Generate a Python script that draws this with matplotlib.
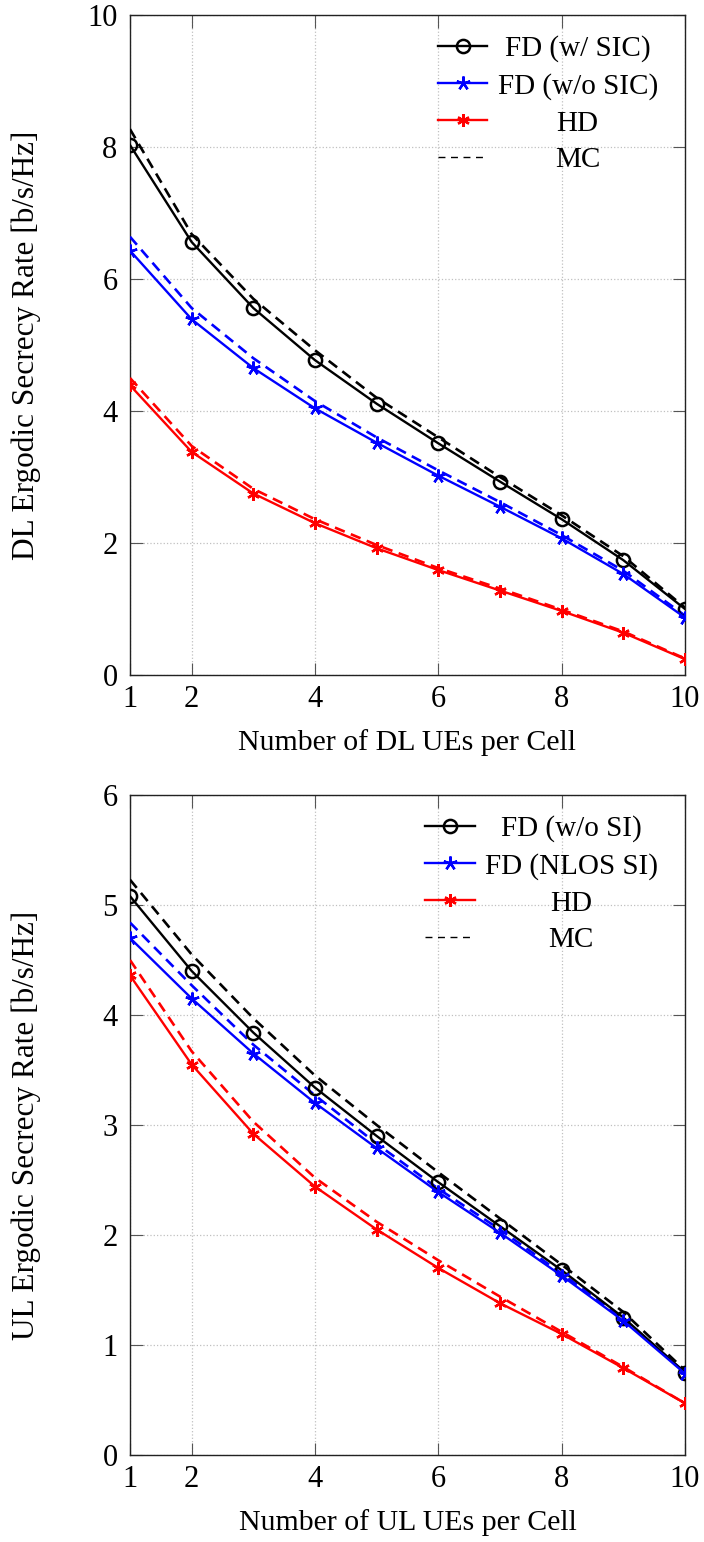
import numpy as np
import matplotlib
matplotlib.use("Agg")
import matplotlib.pyplot as plt
from matplotlib.lines import Line2D

plt.rcParams['font.family'] = ['Liberation Serif', 'DejaVu Serif']
plt.rcParams['font.size'] = 22

# number of UEs per cell
ues = [1, 2, 3, 4, 5, 6, 7, 8, 9, 10]
xticks = [1, 2, 4, 6, 8, 10]

# downlink (top panel)
dl_fd_sic = [8.03, 6.56, 5.56, 4.77, 4.11, 3.51, 2.93, 2.36, 1.74, 1.00]
dl_fd_sic_mc = [8.27, 6.68, 5.70, 4.92, 4.20, 3.60, 3.00, 2.42, 1.80, 1.02]
dl_fd_nosic = [6.43, 5.39, 4.65, 4.04, 3.52, 3.02, 2.55, 2.07, 1.53, 0.87]
dl_fd_nosic_mc = [6.64, 5.56, 4.80, 4.15, 3.60, 3.10, 2.62, 2.12, 1.58, 0.90]
dl_hd = [4.39, 3.38, 2.75, 2.30, 1.92, 1.59, 1.28, 0.97, 0.64, 0.24]
dl_hd_mc = [4.50, 3.47, 2.82, 2.36, 1.97, 1.62, 1.31, 0.99, 0.66, 0.25]

# uplink (bottom panel)
ul_fd_nosi = [5.08, 4.40, 3.84, 3.34, 2.90, 2.48, 2.08, 1.68, 1.25, 0.75]
ul_fd_nosi_mc = [5.23, 4.55, 3.97, 3.45, 3.00, 2.57, 2.15, 1.73, 1.30, 0.77]
ul_fd_nlos = [4.70, 4.15, 3.65, 3.20, 2.79, 2.39, 2.02, 1.63, 1.22, 0.74]
ul_fd_nlos_mc = [4.84, 4.27, 3.73, 3.27, 2.83, 2.42, 2.05, 1.65, 1.24, 0.75]
ul_hd = [4.36, 3.55, 2.92, 2.44, 2.05, 1.70, 1.38, 1.10, 0.79, 0.47]
ul_hd_mc = [4.50, 3.67, 3.03, 2.52, 2.12, 1.77, 1.44, 1.12, 0.80, 0.47]

dl_labels = ['FD (w/ SIC)', 'FD (w/o SIC)', 'HD', 'MC']
ul_labels = ['FD (w/o SI)', 'FD (NLOS SI)', 'HD', 'MC']

fig = plt.figure(figsize=(7.04, 15.42), dpi=100)
ax1 = fig.add_axes([130/704, 1-675/1542, 555/704, 660/1542])
ax2 = fig.add_axes([130/704, 1-1455/1542, 555/704, 660/1542])

star5 = (5, 2, 0)
star6 = (6, 2, 0)
dash = (0, (4, 2.5))


def panel(ax, series, labels, ymax, xlab, ylab):
    (a, am), (b, bm), (c, cm) = series
    h1, = ax.plot(ues, a, color='black', lw=1.7, marker='o', ms=9.5,
                  mfc='none', mew=1.8, zorder=5)
    ax.plot(ues, am, color='black', lw=1.9, ls=dash, zorder=4)
    h2, = ax.plot(ues, b, color='blue', lw=1.7, marker=star5, ms=10,
                  mew=1.7, zorder=5)
    ax.plot(ues, bm, color='blue', lw=1.9, ls=dash, zorder=4)
    h3, = ax.plot(ues, c, color='red', lw=1.7, marker=star6, ms=9,
                  mew=1.7, zorder=5)
    ax.plot(ues, cm, color='red', lw=1.9, ls=dash, zorder=4)
    h4 = Line2D([], [], color='black', lw=1.0, ls=(0, (5, 4)))

    ax.set_xlim(1, 10)
    ax.set_ylim(0, ymax)
    ax.set_xticks(xticks)
    ax.set_yticks(np.arange(0, ymax + 1, 2 if ymax == 10 else 1))
    ax.grid(True, ls=':', color='#c0c0c0', lw=0.9)
    ax.tick_params(direction='in', length=9, width=0.8, color='#555555',
                   top=True, right=True, labelsize=22)
    ax.tick_params(axis='x', pad=7)
    ax.tick_params(axis='y', pad=9)
    for s in ax.spines.values():
        s.set_linewidth(1.0)
        s.set_color('#222222')
    ax.set_xlabel(xlab, fontsize=21.5)
    ax.set_ylabel(ylab, fontsize=22.5)
    ax.xaxis.set_label_coords(0.5, -0.082)
    ax.yaxis.set_label_coords(-0.16, 0.5)

    leg = ax.legend([h1, h2, h3, h4], labels, loc='upper right',
                    bbox_to_anchor=(0.972, 0.987), frameon=False,
                    fontsize=21, numpoints=1, handlelength=1.7,
                    handletextpad=0.35, labelspacing=0.36, borderaxespad=0)
    return leg


leg1 = panel(ax1, [(dl_fd_sic, dl_fd_sic_mc), (dl_fd_nosic, dl_fd_nosic_mc),
                   (dl_hd, dl_hd_mc)], dl_labels, 10,
             'Number of DL UEs per Cell', 'DL Ergodic Secrecy Rate [b/s/Hz]')
leg2 = panel(ax2, [(ul_fd_nosi, ul_fd_nosi_mc), (ul_fd_nlos, ul_fd_nlos_mc),
                   (ul_hd, ul_hd_mc)], ul_labels, 6,
             'Number of UL UEs per Cell', 'UL Ergodic Secrecy Rate [b/s/Hz]')

# center the legend entries within the text column
fig.canvas.draw()
r = fig.canvas.get_renderer()
for leg in (leg1, leg2):
    texts = leg.get_texts()
    widths = [t.get_window_extent(r).width for t in texts]
    mw = max(widths)
    for t, w in zip(texts, widths):
        t.set_x((mw - w) / 2)

fig.savefig('out.png', dpi=100)
